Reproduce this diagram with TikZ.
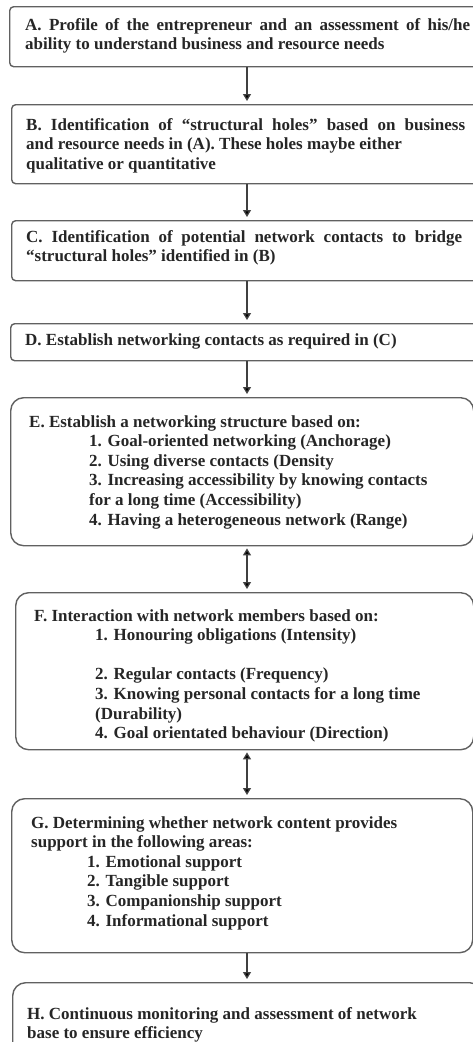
\documentclass[tikz,border=0pt]{standalone}
\usepackage{fontspec}
\setmainfont{Liberation Serif}
\usetikzlibrary{arrows.meta}
\begin{document}
\begin{tikzpicture}[x=1pt,y=1pt,
  sbox/.style={draw=black!62, line width=1.4pt, rounded corners=4pt, anchor=north west, inner sep=0pt, fill=white},
  rbox/.style={draw=black!62, line width=1.4pt, rounded corners=13pt, anchor=north west, inner sep=0pt, fill=white},
  txt/.style={anchor=base west, inner sep=0pt, font=\fontsize{17}{19.6}\selectfont\bfseries, text=black!85},
  flow/.style={draw=black!75, line width=1.3pt, -{Triangle[length=7pt,width=8pt,fill=black]}},
  flow2/.style={draw=black!75, line width=1.3pt, {Triangle[length=7pt,width=8pt,fill=black]}-{Triangle[length=7pt,width=8pt,fill=black]}}
]
\useasboundingbox (0,0) rectangle (473,-1042);
\clip (0,0) rectangle (473,-1042);
% boxes
\node[sbox, minimum width=470pt, minimum height=60pt] (A) at (9,-6) {};
\node[sbox, minimum width=470pt, minimum height=79pt] (B) at (11,-104) {};
\node[sbox, minimum width=470pt, minimum height=60pt] (C) at (11,-220) {};
\node[sbox, minimum width=470pt, minimum height=37pt] (D) at (10,-323) {};
\node[rbox, minimum width=463pt, minimum height=148pt] (E) at (10,-397) {};
\node[rbox, minimum width=458pt, minimum height=157pt] (F) at (15,-592) {};
\node[rbox, minimum width=461pt, minimum height=154pt] (G) at (11,-798) {};
\node[rbox, minimum width=470pt, minimum height=100pt] (H) at (12,-982) {};
% texts
\renewcommand{\arraystretch}{1}
\node[txt] (At) at (25,-30) {\begin{tabular}[t]{@{}l@{}}\makebox[445pt][s]{A. Profile of the entrepreneur and an assessment of his/he}\\ability to understand business and resource needs\end{tabular}};
\node[txt] (Bt) at (26,-130) {\begin{tabular}[t]{@{}l@{}}\makebox[439pt][s]{B. Identification of ``structural holes'' based on business}\\and resource needs in (A). These holes maybe either\\qualitative or quantitative\end{tabular}};
\node[txt] (Ct) at (26,-242) {\begin{tabular}[t]{@{}l@{}}\makebox[436pt][s]{C. Identification of potential network contacts to bridge}\\``structural holes'' identified in (B)\end{tabular}};
\node[txt] (Dt) at (25,-345) {D. Establish networking contacts as required in (C)};
\node[txt] (Et) at (29,-427) {\begin{tabular}[t]{@{}l@{}}E. Establish a networking structure based on:\\
\hspace{60pt}1. Goal-oriented networking (Anchorage)\\
\hspace{60pt}2. Using diverse contacts (Density\\
\hspace{60pt}3. Increasing accessibility by knowing contacts\\
\hspace{60pt}for a long time (Accessibility)\\
\hspace{60pt}4. Having a heterogeneous network (Range)\end{tabular}};
\node[txt] (Ft) at (34,-621) {\begin{tabular}[t]{@{}l@{}}F. Interaction with network members based on:\\
\hspace{61pt}1. Honouring obligations (Intensity)\\[19.6pt]
\hspace{61pt}2. Regular contacts (Frequency)\\
\hspace{61pt}3. Knowing personal contacts for a long time\\
\hspace{61pt}(Durability)\\
\hspace{61pt}4. Goal orientated behaviour (Direction)\end{tabular}};
\node[txt] (Gt) at (31,-828) {\begin{tabular}[t]{@{}l@{}}G. Determining whether network content provides\\support in the following areas:\\
\hspace{56pt}1. Emotional support\\
\hspace{56pt}2. Tangible support\\
\hspace{56pt}3. Companionship support\\
\hspace{56pt}4. Informational support\end{tabular}};
\node[txt] (Ht) at (27,-1019) {\begin{tabular}[t]{@{}l@{}}H. Continuous monitoring and assessment of network\\base to ensure efficiency\end{tabular}};
% connectors
\draw[flow, shorten >=3pt] (A.south -| 247,0) -- (B.north -| 247,0);
\draw[flow, shorten >=3pt] (B.south -| 247,0) -- (C.north -| 247,0);
\draw[flow, shorten >=3pt] (C.south -| 247,0) -- (D.north -| 247,0);
\draw[flow, shorten >=3pt] (D.south -| 247,0) -- (E.north -| 247,0);
\draw[flow2, shorten >=3pt, shorten <=2pt] (E.south -| 247,0) -- (F.north -| 247,0);
\draw[flow2, shorten >=3pt, shorten <=2pt] (F.south -| 247,0) -- (G.north -| 247,0);
\draw[flow, shorten >=3pt] (G.south -| 247,0) -- (H.north -| 247,0);
\end{tikzpicture}
\end{document}
